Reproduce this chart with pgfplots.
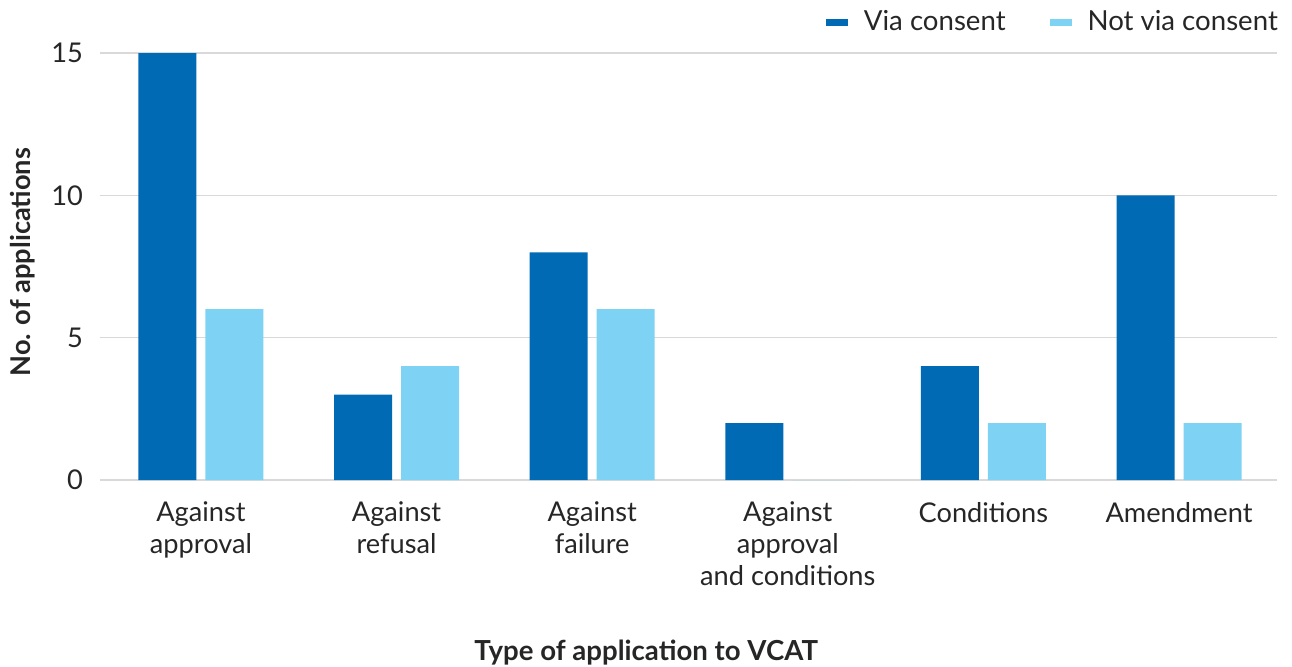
\documentclass[border=0pt]{standalone}
\usepackage{pgfplots}
\pgfplotsset{compat=1.18}
\usepackage{fontspec}
\setmainfont{Lato}
\definecolor{darkb}{HTML}{006AB5}
\definecolor{lightb}{HTML}{7ED3F5}
\definecolor{txt}{HTML}{262626}
\definecolor{gridc}{HTML}{D9D9D9}
\begin{document}
\begin{tikzpicture}
\useasboundingbox (-50bp,-93.5bp) rectangle (596bp,240bp);
\begin{axis}[
  scale only axis,
  width=588.5bp, height=213.5bp,
  ybar=4.5bp, bar width=29bp,
  xmin=-0.516, xmax=5.501, ymin=0, ymax=15,
  xtick=data,
  xticklabels={{Against\\approval},{Against\\refusal},{Against\\failure},{Against\\approval\\and conditions},{Conditions},{Amendment}},
  ytick={0,5,10,15},
  ymajorgrids, grid style={gridc, line width=0.6bp},
  axis x line*=bottom, axis y line*=left,
  y axis line style={draw=none},
  x axis line style={gridc, line width=0.8bp, -},
  major tick length=0pt,
  tick style={draw=none},
  /pgf/number format/assume math mode=true,
  ticklabel style={font=\fontsize{13.6bp}{16bp}\selectfont, text=txt},
  xticklabel style={align=center, yshift=-7.5bp},
  yticklabel style={xshift=-5bp},
  xlabel={\textbf{Type of application to VCAT}},
  ylabel={\textbf{No. of applications}},
  xlabel style={at={(axis description cs:0.464,-0.405)}, anchor=center, font=\fontsize{13.8bp}{14bp}\selectfont, text=txt},
  ylabel style={at={(axis description cs:-0.066,0.51)}, anchor=center, rotate=0, font=\fontsize{13.6bp}{14bp}\selectfont, text=txt},
  legend columns=2,
  legend style={draw=none, fill=none, at={(1.0095,1.0)}, anchor=south east, yshift=5.5bp,
    font=\fontsize{13.8bp}{14bp}\selectfont, text=txt,
    /tikz/every even column/.append style={column sep=20bp},
    /tikz/every odd column/.append style={column sep=6bp}},
  legend image code/.code={\fill[#1] (0bp,-1.75bp) rectangle (11bp,1.75bp);},
]
\addplot[fill=darkb, draw=none] coordinates {(0,15) (1,3) (2,8) (3,2) (4,4) (5,10)};
\addplot[fill=lightb, draw=none] coordinates {(0,6) (1,4) (2,6) (3,0) (4,2) (5,2)};
\legend{Via consent, Not via consent}
\end{axis}
\end{tikzpicture}
\end{document}
